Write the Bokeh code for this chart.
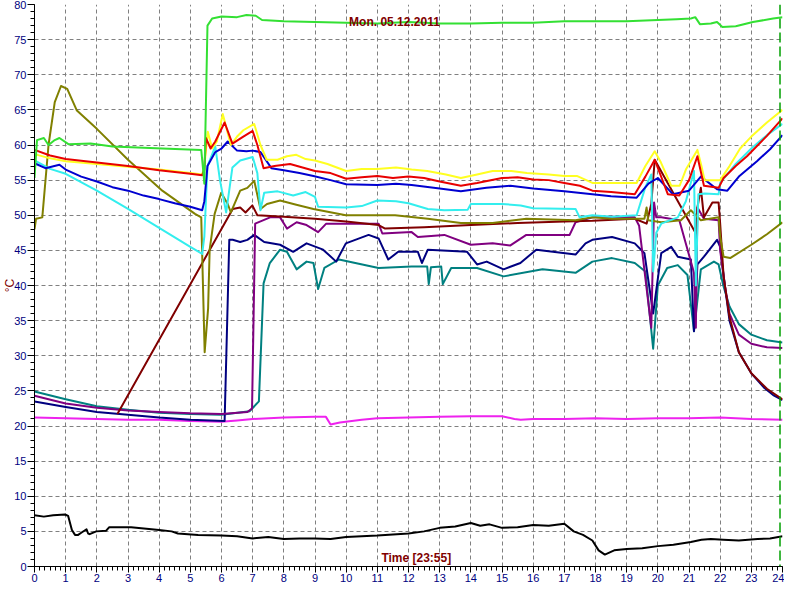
from bokeh.plotting import figure
from bokeh.models import Range1d, SingleIntervalTicker, Label, Span
from bokeh.embed import file_html
from bokeh.resources import INLINE

# ---------------- data (hours, deg C) ----------------
title_text = "Mon. 05.12.2011"
time_text = "Time [23:55]"
y_label = "°C"
now_hour = 23.92

green_h = [0, 0.08, 0.3, 0.45, 0.65, 0.8, 1.1, 1.8, 2.5, 4.1, 5.35, 5.4, 5.45, 5.55, 5.7, 6.0, 6.5, 6.8, 7.1, 7.3,
           8, 9, 10, 11, 12, 13, 14, 15, 16, 17, 18, 19, 20, 20.6, 21.06, 21.2, 21.35, 21.7, 21.9, 22.07,
           22.5, 23.05, 23.7, 24]
green_v = [55.3, 60.7, 61, 60, 60.7, 61, 60.1, 60.2, 59.8, 59.5, 59.3, 57, 54.5, 77, 78, 78.3, 78.2, 78.5, 78.4, 77.8,
           77.6, 77.5, 77.4, 77.3, 77.5, 77.3, 77.3, 77.4, 77.4, 77.6, 77.6, 77.6, 77.8, 77.9, 78, 78.2, 77.2, 77.3, 77.5, 76.8,
           76.9, 77.5, 78, 78.2]

yellow_h = [0, 0.5, 1, 2, 3, 4, 5, 5.38, 5.45, 5.56, 5.7, 5.85, 6.04, 6.3, 6.5, 6.7, 7.05, 7.25, 7.45, 7.8,
            8.1, 8.4, 8.7, 9.0, 9.4, 10.0, 10.5, 11.0, 11.6, 12.1, 12.6, 13.2, 13.68, 14.2, 14.7, 15.3, 15.8, 16.5, 17.0, 17.4,
            17.9, 18.5, 19.32, 19.6, 19.9, 20.1, 20.43, 20.7, 20.9, 21.27, 21.4, 21.5, 22.0, 22.3, 22.64, 23.0, 23.5, 24]
yellow_v = [58.7, 58.1, 57.7, 57.3, 56.9, 56.5, 56.0, 55.8, 57, 61.9, 59.5, 60.5, 64.4, 60, 61.2, 62.1, 63.0, 60, 57.9, 57.9,
            58.4, 58.6, 58.0, 57.8, 57.3, 56.3, 56.6, 56.6, 56.8, 56.5, 56.3, 55.8, 55.3, 55.8, 56.3, 56.3, 56.0, 55.8, 55.6, 55.6,
            54.6, 54.6, 54.6, 57, 59.1, 57.5, 54.2, 54.2, 56.5, 59.3, 57, 55, 55, 57, 59.5, 61.2, 63.2, 65]

red_h = [0, 0.5, 1, 2, 3, 4, 5, 5.38, 5.45, 5.5, 5.65, 5.8, 6.1, 6.35, 6.7, 7.0, 7.15, 7.35, 7.7, 8.2,
         8.6, 9.0, 9.5, 10.0, 10.5, 11.0, 11.5, 12.0, 12.5, 13.0, 13.68, 14.2, 15.0, 15.5, 16.0, 16.5, 17.0, 17.5, 17.9, 18.5,
         19.26, 19.6, 19.9, 20.32, 20.69, 21.0, 21.27, 21.48, 21.95, 22.11, 22.5, 22.86, 23.5, 24]
red_v = [59.3, 58.5, 58.0, 57.5, 57.0, 56.4, 55.9, 55.7, 56.5, 61, 59.5, 60.5, 63.2, 60.2, 61.2, 62.0, 60, 56.7, 57, 57.3,
         56.8, 56.3, 56.0, 55.2, 55.4, 55.6, 55.3, 55.5, 55.3, 54.8, 54.2, 54.6, 55.3, 55.4, 55.1, 55.0, 54.6, 54.2, 53.5, 53.3,
         53.0, 55.5, 57.9, 53, 52.8, 55, 58.4, 54.2, 53.9, 55.3, 57, 58.4, 61.3, 63.8]

blue_h = [0, 0.35, 0.8, 1, 1.5, 2, 2.5, 3, 3.5, 4, 4.5, 5, 5.38, 5.45, 5.55, 5.8, 6.0, 6.2, 6.5, 6.8,
          7.0, 7.25, 7.6, 8.0, 8.5, 8.95, 9.5, 10.0, 11.0, 11.6, 12.1, 13.0, 13.68, 14.5, 15.27, 16.0, 17.0, 17.9, 18.5, 19.32,
          19.7, 20.0, 20.48, 21.0, 21.38, 21.9, 22.23, 22.6, 23.18, 23.6, 24]
blue_v = [57.4, 56.7, 57.2, 56.5, 55.5, 54.8, 54.0, 53.5, 52.8, 52.3, 51.7, 51.2, 50.7, 52, 57, 59, 59.5, 60.5, 59.2, 59.1,
          59.2, 59.0, 56.7, 56.4, 56.0, 55.6, 55.0, 54.4, 54.3, 54.5, 54.3, 53.8, 53.4, 53.9, 54.2, 53.8, 53.4, 53.0, 52.7, 52.5,
          54.5, 55.3, 53.0, 53.5, 55.5, 53.7, 53.5, 55.5, 57.7, 59.4, 61.4]

cyan_h = [0, 0.5, 1, 2, 3, 4, 5, 5.38, 5.45, 5.55, 5.8, 5.95, 6.15, 6.35, 6.6, 7.0, 7.15, 7.25, 7.37, 7.8,
          8.3, 8.7, 9.0, 9.1, 10.0, 10.5, 11.0, 11.6, 12.0, 12.62, 13.15, 13.9, 14.0, 15.0, 15.6, 16.0, 17.36, 17.49, 17.9, 18.53,
          19.32, 19.6, 19.79, 19.85, 19.95, 20.11, 20.64, 20.9, 21.16, 21.22, 21.3, 21.5, 21.95, 22.0, 22.5, 23.0, 23.5, 24]
cyan_v = [57.8, 56.6, 55.9, 53.5, 50.9, 48.2, 45.5, 44.5, 47, 57, 59.8, 55, 50.4, 56.8, 57.8, 58.3, 56, 50.7, 53.2, 53.4,
          52.8, 53.3, 52.6, 51.2, 51.1, 51.3, 52.1, 52.0, 51.7, 50.9, 50.7, 50.8, 51.6, 51.6, 51.4, 51.0, 50.9, 49.7, 50.0, 49.8,
          50.0, 54, 55.8, 42, 47.5, 48.8, 49.7, 52, 56.3, 40, 53, 53.1, 53, 54.6, 57.3, 59.5, 61.4, 63]

olive_h = [0, 0.05, 0.25, 0.45, 0.65, 0.85, 1.05, 1.36, 2.0, 3.0, 4.1, 5.15, 5.35, 5.46, 5.57, 5.62, 5.78, 5.99, 6.2, 6.3,
           6.6, 6.83, 7.05, 7.25, 7.46, 7.88, 8.4, 8.95, 9.99, 11.57, 12.62, 13.68, 14.7, 15.78, 17.36, 17.9, 18.53, 19.32, 19.57, 19.64,
           19.69, 20.11, 20.74, 21.06, 21.38, 21.95, 22.0, 22.11, 22.32, 23.0, 23.5, 24]
olive_v = [48, 49.5, 49.7, 60, 66.1, 68.4, 68, 64.9, 62.3, 57.9, 53.5, 50.2, 49.7, 30.5, 36.7, 45.1, 50.2, 53.2, 51.6, 50.4,
           53.5, 53.9, 54.9, 50.9, 51.6, 52.1, 51.5, 50.9, 50.0, 50.0, 49.5, 48.9, 48.9, 49.5, 49.3, 49.7, 49.5, 49.5, 49.5, 51.1,
           49.3, 49.0, 49.3, 50.7, 49.3, 49.7, 47, 44.1, 43.9, 45.8, 47.3, 49]

maroon_h = [2.66, 6.36, 6.6, 6.77, 6.99, 7.15, 8.0, 9.0, 10.0, 11.04, 11.25, 12.5, 14.0, 15.5, 17.0, 17.9, 19.26, 19.64, 19.79, 19.9,
            21.22, 21.27, 21.38, 21.48, 21.75, 21.95, 22.0, 22.11, 22.3, 22.6, 23.0, 23.5, 24]
maroon_v = [21.7, 50.9, 51.1, 50.4, 51.4, 50.0, 49.8, 49.5, 49.1, 48.6, 48.1, 48.3, 48.6, 48.9, 49.1, 49.2, 49.5, 48.8, 51.6, 57.9,
            47.4, 51.1, 53.9, 49.7, 51.8, 51.8, 48.8, 41.3, 35.5, 30.5, 27.5, 25.3, 23.8]

purple_h = [0, 1, 2, 3, 4, 5, 6, 6.83, 6.98, 7.08, 7.56, 7.88, 8.1, 8.41, 8.73, 9.1, 9.36, 11.04, 11.16, 12.1,
            12.3, 13.15, 14.0, 14.7, 15.27, 15.78, 17.17, 17.36, 17.9, 18.5, 19.26, 19.4, 19.79, 19.88, 19.95, 20.11, 20.69, 21.16, 21.22, 21.27,
            21.48, 21.95, 22.0, 22.15, 22.3, 22.6, 23.0, 23.5, 24]
purple_v = [24.3, 23.2, 22.6, 22.2, 22.0, 21.8, 21.7, 22.0, 22.5, 48.8, 49.7, 49.7, 48.1, 49.0, 48.6, 47.6, 48.8, 48.8, 47.4, 47.6,
            46.9, 47.2, 45.8, 46.0, 45.7, 47.2, 47.2, 49.0, 49.7, 49.8, 49.7, 48.5, 34, 51.8, 49.7, 49.7, 49.3, 41.8, 34, 51.1,
            49.5, 49.3, 45, 40, 36, 33, 31.7, 31.2, 31.1]

navy_h = [0, 1, 2, 3, 4, 5, 6.1, 6.25, 6.36, 6.6, 6.83, 7.05, 7.37, 7.88, 8.3, 8.73, 9.26, 9.68, 9.99, 10.72,
          11.04, 11.35, 11.67, 12.3, 12.43, 12.62, 13.88, 14.2, 14.51, 15.05, 15.59, 16.1, 17.36, 17.68, 17.9, 18.53, 19.26, 19.57, 19.85, 20.11,
          20.43, 20.64, 21.06, 21.16, 21.27, 21.48, 21.9, 22.0, 22.15, 22.3, 22.6, 23.0, 23.4, 23.7, 24]
navy_v = [23.5, 22.7, 22.0, 21.6, 21.2, 20.9, 20.7, 46.5, 46.5, 46.2, 46.5, 47.2, 46.2, 45.8, 44.8, 46.0, 45.1, 43.4, 46.0, 47.2,
          46.7, 43.7, 44.8, 44.8, 43.2, 45.1, 44.8, 43.0, 43.4, 42.3, 43.2, 45.1, 44.4, 46.0, 46.5, 46.9, 46.0, 44.6, 36, 44.6,
          45.5, 44.1, 43.7, 33.5, 43, 44.1, 46.5, 45.5, 40, 35, 30.5, 27.5, 25.5, 24.4, 23.7]

teal_h = [0, 1, 2, 3, 4, 5, 6, 6.9, 7.2, 7.35, 7.55, 7.88, 8.1, 8.41, 8.73, 8.95, 9.1, 9.3, 9.77, 11.04,
          12.1, 12.6, 12.65, 12.72, 13.05, 13.1, 13.37, 14.2, 15.05, 16.3, 17.36, 17.9, 18.53, 19.26, 19.6, 19.85, 20.0, 20.3, 20.64, 20.95,
          21.16, 21.38, 21.8, 21.95, 22.1, 22.3, 22.6, 23.0, 23.5, 24]
teal_v = [24.9, 23.8, 22.8, 22.3, 21.9, 21.7, 21.6, 22.1, 23.5, 40.3, 43.2, 45.1, 44.8, 42.3, 43.4, 43.2, 39.5, 42.5, 43.7, 42.5,
          42.7, 42.7, 40.2, 42.6, 42.7, 40.2, 42.5, 42.5, 41.3, 42.3, 41.8, 43.4, 43.9, 43.2, 42, 31, 40, 42.5, 42.9, 41.5,
          33.5, 42.3, 43.4, 43, 40, 37, 34.5, 33, 32.2, 31.9]

magenta_h = [0, 1, 2, 3, 4, 5, 6, 6.5, 7, 8, 9, 9.35, 9.5, 9.8, 10.5, 11, 12, 13, 14, 15,
             15.4, 15.6, 16, 17, 18, 19, 20, 21, 22, 23, 24]
magenta_v = [21.2, 21.1, 21.0, 20.9, 20.9, 20.7, 20.6, 20.8, 21.0, 21.2, 21.3, 21.3, 20.2, 20.5, 20.9, 21.1, 21.2, 21.3, 21.4, 21.4,
             21.0, 20.9, 21.0, 21.0, 21.1, 21.0, 21.1, 21.1, 21.2, 21.0, 20.9]

black_h = [0, 0.3, 0.6, 0.98, 1.08, 1.2, 1.3, 1.4, 1.5, 1.67, 1.72, 1.77, 1.98, 2.3, 2.4, 2.7, 3.1, 4.0, 4.4, 4.6,
           5.25, 6, 6.5, 7, 7.5, 8, 8.5, 9, 9.5, 10, 11, 12, 12.5, 13, 13.5, 14, 14.3, 14.6, 15, 15.5,
           16, 16.5, 17, 17.3, 17.6, 17.9, 18.1, 18.3, 18.6, 19, 19.5, 20, 20.5, 21.06, 21.4, 21.7, 22.1, 22.6, 23.2, 23.6, 24]
black_v = [7.3, 7.1, 7.3, 7.4, 7.2, 5.2, 4.5, 4.5, 4.8, 5.3, 4.7, 4.6, 5.0, 5.1, 5.6, 5.6, 5.6, 5.2, 5.0, 4.7,
           4.5, 4.4, 4.3, 4.0, 4.2, 3.9, 4.0, 4.0, 3.9, 4.2, 4.4, 4.7, 5.0, 5.5, 5.7, 6.2, 5.8, 6.0, 5.5, 5.6,
           5.9, 5.8, 6.1, 5.0, 4.5, 3.7, 2.3, 1.7, 2.3, 2.5, 2.6, 2.9, 3.1, 3.5, 3.8, 3.9, 3.8, 3.7, 3.9, 4.0, 4.3]

series = [
    (magenta_h, magenta_v, "#ee22ee"),
    (black_h, black_v, "#000000"),
    (teal_h, teal_v, "#008080"),
    (navy_h, navy_v, "#000080"),
    (purple_h, purple_v, "#800080"),
    (maroon_h, maroon_v, "#800000"),
    (olive_h, olive_v, "#808000"),
    (cyan_h, cyan_v, "#33eeee"),
    (blue_h, blue_v, "#0000d0"),
    (yellow_h, yellow_v, "#ffff22"),
    (red_h, red_v, "#e80000"),
    (green_h, green_v, "#33e033"),
]

# ---------------- figure ----------------
p = figure(width=784, height=584, x_range=Range1d(0, 24), y_range=Range1d(0, 80),
           output_backend="svg", toolbar_location=None,
           min_border_left=30, min_border_right=2, min_border_top=4, min_border_bottom=14)
p.background_fill_color = "white"
p.border_fill_color = "white"
p.outline_line_color = None

xt = SingleIntervalTicker(interval=1, num_minor_ticks=6)
yt = SingleIntervalTicker(interval=5, num_minor_ticks=5)
p.xaxis.ticker = xt
p.yaxis.ticker = yt
p.xgrid.ticker = xt
p.ygrid.ticker = yt
p.grid.grid_line_color = "#808080"
p.grid.grid_line_dash = "4 3"
p.grid.grid_line_width = 1

for ax in (p.xaxis[0], p.yaxis[0]):
    ax.axis_line_color = "black"
    ax.axis_line_width = 1
    ax.major_tick_in = 0
    ax.minor_tick_in = 0
    ax.major_tick_line_color = "black"
    ax.minor_tick_line_color = "black"
    ax.major_label_text_color = "#000080"
    ax.major_label_text_font = "Liberation Sans"
    ax.major_label_text_font_size = "11px"
    ax.major_label_standoff = 2
p.yaxis.major_tick_out = 7
p.yaxis.minor_tick_out = 4
p.yaxis.major_label_standoff = 1
p.xaxis.major_tick_out = 6
p.xaxis.minor_tick_out = 4
p.xaxis.major_label_standoff = 1

p.yaxis.axis_label = y_label
p.yaxis.axis_label_text_color = "#800000"
p.yaxis.axis_label_text_font = "Liberation Sans"
p.yaxis.axis_label_text_font_style = "normal"
p.yaxis.axis_label_text_font_size = "12px"
p.yaxis.axis_label_standoff = -6

for h, v, c in series:
    p.line(h, v, line_color=c, line_width=2, line_join="round")

p.add_layout(Span(location=now_hour, dimension="height", line_color="#00a000",
                  line_dash="10 4", line_width=1.5))

p.add_layout(Label(x=11.55, y=77.5, text=title_text, text_align="center", text_baseline="middle",
                   text_font="Liberation Sans", text_font_style="bold", text_font_size="12px",
                   text_color="#800000"))
p.add_layout(Label(x=12.25, y=0.25, text=time_text, text_align="center", text_baseline="bottom",
                   text_font="Liberation Sans", text_font_style="bold", text_font_size="12px",
                   text_color="#800000"))

open("out.html", "w").write(file_html(p, INLINE))
